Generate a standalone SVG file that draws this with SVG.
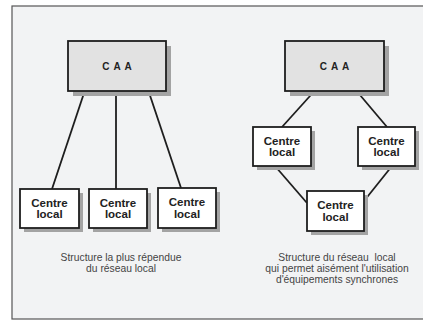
<svg xmlns="http://www.w3.org/2000/svg" width="423" height="320" viewBox="0 0 423 320">
<style>
.frame{fill:#f2f3f4;stroke:#555;stroke-width:1.2}
.shadow{fill:#a3a3a3}
.caa{fill:#e2e2e2;stroke:#1e1e1e;stroke-width:1.8}
.box{fill:#ffffff;stroke:#1e1e1e;stroke-width:1.8}
.conn line{stroke:#1e1e1e;stroke-width:1.8;fill:none}
.t{font-family:"Liberation Sans",Arial,sans-serif;font-weight:bold;fill:#222;text-anchor:middle}
.caat{font-size:10px;letter-spacing:4px}
.cl{font-size:11.5px}
.cap{font-family:"Liberation Sans",Arial,sans-serif;font-size:10.3px;fill:#444;text-anchor:middle;white-space:pre}
</style>
<rect class="frame" x="12" y="6" width="420" height="313"/>
<g id="connectors" class="conn">
<line x1="84.7" y1="91" x2="52" y2="189"/>
<line x1="116" y1="91" x2="116" y2="189"/>
<line x1="148.5" y1="91" x2="181" y2="188"/>
<line x1="314.5" y1="91" x2="282" y2="127"/>
<line x1="356.6" y1="91" x2="387" y2="127"/>
<line x1="275" y1="166" x2="307" y2="203"/>
<line x1="392" y1="166" x2="364" y2="201"/>
</g>
<g id="caa-left">
<rect class="shadow" x="73" y="46" width="98" height="50"/>
<rect class="caa" x="68" y="41" width="98" height="50"/>
<text class="t caat" x="119" y="70">CAA</text>
</g>
<g id="caa-right">
<rect class="shadow" x="290" y="46" width="99" height="50"/>
<rect class="caa" x="285" y="41" width="99" height="50"/>
<text class="t caat" x="336.5" y="70">CAA</text>
</g>
<g id="cl-left-1">
<rect class="shadow" x="24" y="193" width="59" height="39"/>
<rect class="box" x="20" y="189" width="59" height="39"/>
<text class="t cl" x="49.5" y="206.5">Centre</text>
<text class="t cl" x="49.5" y="218">local</text>
</g>
<g id="cl-left-2">
<rect class="shadow" x="93" y="193" width="58" height="39"/>
<rect class="box" x="89" y="189" width="58" height="39"/>
<text class="t cl" x="118" y="206.5">Centre</text>
<text class="t cl" x="118" y="218">local</text>
</g>
<g id="cl-left-3">
<rect class="shadow" x="162" y="192" width="58" height="40"/>
<rect class="box" x="158" y="188" width="58" height="40"/>
<text class="t cl" x="187" y="206">Centre</text>
<text class="t cl" x="187" y="217.5">local</text>
</g>
<g id="cl-right-1">
<rect class="shadow" x="257" y="131" width="58" height="39"/>
<rect class="box" x="253" y="127" width="58" height="39"/>
<text class="t cl" x="282" y="144.5">Centre</text>
<text class="t cl" x="282" y="156">local</text>
</g>
<g id="cl-right-2">
<rect class="shadow" x="362" y="131" width="57" height="39"/>
<rect class="box" x="358" y="127" width="57" height="39"/>
<text class="t cl" x="386.5" y="144.5">Centre</text>
<text class="t cl" x="386.5" y="156">local</text>
</g>
<g id="cl-right-3">
<rect class="shadow" x="311" y="195" width="57" height="40"/>
<rect class="box" x="307" y="191" width="57" height="40"/>
<text class="t cl" x="335.5" y="209">Centre</text>
<text class="t cl" x="335.5" y="220.5">local</text>
</g>
<g id="caption-left">
<text class="cap" x="121" y="260.5">Structure la plus répendue</text>
<text class="cap" x="121" y="271.5">du réseau local</text>
</g>
<g id="caption-right">
<text class="cap" x="337" y="260.5">Structure du réseau  local</text>
<text class="cap" x="337" y="271.5">qui permet aisément l'utilisation</text>
<text class="cap" x="337" y="282.5">d'équipements synchrones</text>
</g>
</svg>
